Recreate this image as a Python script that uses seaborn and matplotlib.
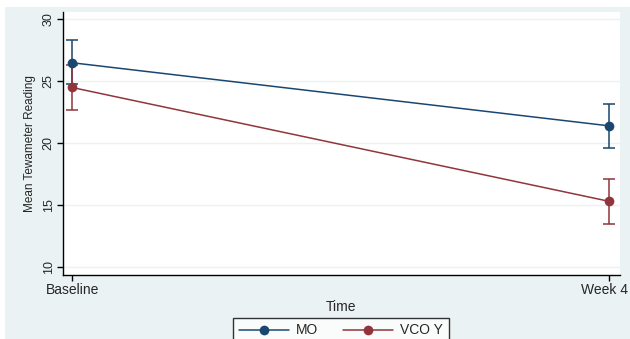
import matplotlib
matplotlib.use("Agg")
import matplotlib.pyplot as plt
import matplotlib.transforms as mtransforms
import seaborn as sns
import pandas as pd
from matplotlib.patches import Rectangle

sns.set_theme(style="white")
plt.rcParams['font.family'] = ['Liberation Sans', 'DejaVu Sans']

times = ["Baseline", "Week 4"]
groups = ["MO", "VCO Y"]
mo_mean = [26.5, 21.4]
mo_lo = [24.8, 19.6]
mo_hi = [28.3, 23.2]
vco_mean = [24.5, 15.3]
vco_lo = [22.7, 13.5]
vco_hi = [26.3, 17.1]
colors = ["#1a476f", "#90353b"]
yticks = [10, 15, 20, 25, 30]

df = pd.DataFrame({
    "Time": times * 2,
    "Group": [groups[0]] * 2 + [groups[1]] * 2,
    "Mean": mo_mean + vco_mean,
    "Lo": mo_lo + vco_lo,
    "Hi": mo_hi + vco_hi,
})
df["x"] = df["Time"].map({t: i for i, t in enumerate(times)})

bg = "#eaf2f3"
fig = plt.figure(figsize=(6.3, 3.39), dpi=100)
fig.patch.set_facecolor("white")
fig.patches.append(Rectangle((5/630, 0), 1, 1 - 7/339, transform=fig.transFigure,
                             facecolor=bg, edgecolor="none", zorder=-10))
ax = fig.add_axes([63/630, 1 - 275/339, (620 - 63)/630, (275 - 12)/339])
ax.set_facecolor("white")

for g, c in zip(groups, colors):
    sub = df[df["Group"] == g]
    ax.errorbar(sub["x"], sub["Mean"],
                yerr=[sub["Mean"] - sub["Lo"], sub["Hi"] - sub["Mean"]],
                fmt="none", ecolor=c, elinewidth=1.1, capsize=4, capthick=1.1, zorder=2)

sns.lineplot(data=df, x="x", y="Mean", hue="Group", palette=colors,
             marker="o", markersize=7, markeredgewidth=0, linewidth=1.1,
             ax=ax, legend=False, zorder=3)

for y in yticks:
    ax.axhline(y, color=bg, linewidth=1, zorder=0)

hfs = 10
vfs = 8.5
ax.set_xlim(-0.017, 1.02)
ax.set_ylim(9.35, 30.6)
ax.set_xticks(range(len(times)))
ax.set_xticklabels(times, fontsize=hfs)
ax.set_yticks(yticks)
ax.set_yticklabels([str(v) for v in yticks], fontsize=vfs + 0.5, rotation=90, va="center")
ax.tick_params(axis="both", direction="out", length=4, width=1, color="black", pad=2,
               left=True, bottom=True)
ax.set_xlabel("Time", fontsize=hfs, labelpad=2)
ax.set_ylabel("Mean Tewameter Reading", fontsize=vfs, labelpad=5)
for s in ["top", "right"]:
    ax.spines[s].set_visible(False)
for s in ["left", "bottom"]:
    ax.spines[s].set_color("black")
    ax.spines[s].set_linewidth(1)

# keep the last tick label inside the figure
last = ax.get_xticklabels()[-1]
last.set_transform(last.get_transform() + mtransforms.ScaledTranslation(-5/100, 0, fig.dpi_scale_trans))

handles = [plt.Line2D([], [], color=c, marker="o", markersize=7, markeredgewidth=0, linewidth=1.1)
           for c in colors]
leg = fig.legend(handles, groups, loc="upper center", bbox_to_anchor=(341/630, 1 - 311/339),
                 ncol=2, frameon=True, fancybox=False, edgecolor="black", facecolor="white",
                 fontsize=hfs, handlelength=3.6, handletextpad=0.5, columnspacing=1.8,
                 borderpad=0.4)
leg.get_frame().set_linewidth(1)

fig.savefig("out.png", dpi=100)
